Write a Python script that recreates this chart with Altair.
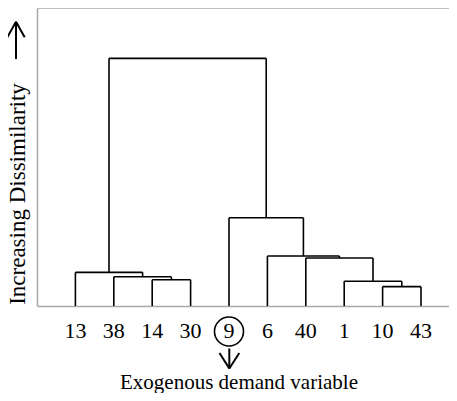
import altair as alt
import pandas as pd

# ---- data ----
leaves = ["13", "38", "14", "30", "9", "6", "40", "1", "10", "43"]
merge_ids = ["m1", "m2", "m3", "m4", "m5", "m6", "m7", "m8", "m9"]
merge_a = ["14", "38", "13", "10", "1", "40", "6", "9", "m3"]
merge_b = ["30", "m1", "m2", "43", "m4", "m5", "m6", "m7", "m8"]
merge_height = [0.88, 0.98, 1.13, 0.65, 0.83, 1.61, 1.68, 2.96, 8.31]
highlight_leaf = "9"

# ---- build dendrogram segments ----
pos = {name: float(i) for i, name in enumerate(leaves)}
hgt = {name: 0.0 for name in leaves}
segs = []
for mid, a, b, h in zip(merge_ids, merge_a, merge_b, merge_height):
    xa, xb = pos[a], pos[b]
    segs.append({"x": xa, "x2": xb, "y": h, "y2": h})
    segs.append({"x": xa, "x2": xa, "y": hgt[a], "y2": h})
    segs.append({"x": xb, "x2": xb, "y": hgt[b], "y2": h})
    pos[mid] = (xa + xb) / 2
    hgt[mid] = h
seg_df = pd.DataFrame(segs)
leaf_df = pd.DataFrame({"idx": list(range(len(leaves))), "label": leaves})
hl_df = leaf_df[leaf_df["label"] == highlight_leaf]

W, H = 412, 298
FONT = "Liberation Serif"
GRAY = "#a9a9a9"

xs = alt.Scale(domain=[-1, 9.729], nice=False, zero=False)
ys = alt.Scale(domain=[0, 10], nice=False)

tree = alt.Chart(seg_df).mark_rule(color="black", strokeWidth=1.6).encode(
    x=alt.X("x:Q", scale=xs,
            axis=alt.Axis(title="Exogenous demand variable", labels=False, ticks=False,
                          grid=False, domainColor=GRAY, domainWidth=1.5,
                          titleFont=FONT, titleFontSize=21, titleFontWeight="normal",
                          titleColor="black", titleX=201.5, titleY=82,
                          titleBaseline="alphabetic", titleAlign="center")),
    x2="x2:Q",
    y=alt.Y("y:Q", scale=ys,
            axis=alt.Axis(title="Increasing Dissimilarity", labels=False, ticks=False,
                          grid=False, domainColor=GRAY, domainWidth=1.5,
                          titleFont=FONT, titleFontSize=23, titleFontWeight="normal",
                          titleColor="black", titleX=-13, titleY=185.5, titleAngle=270,
                          titleBaseline="alphabetic", titleAlign="center")),
    y2="y2:Q",
)

labels = alt.Chart(leaf_df).mark_text(
    font=FONT, fontSize=22, color="black", baseline="alphabetic", align="center"
).encode(x=alt.X("idx:Q", scale=xs), y=alt.value(330), text="label:N")

circle = alt.Chart(hl_df).mark_point(
    shape="circle", filled=False, color="black", strokeWidth=1.6, size=841, opacity=1
).encode(x=alt.X("idx:Q", scale=xs), y=alt.value(323.5))

one = pd.DataFrame({"k": [0]})
# frame top line
top = alt.Chart(one).mark_rule(color=GRAY, strokeWidth=1.5).encode(
    x=alt.value(0), x2=alt.value(W + 10), y=alt.value(0), y2=alt.value(0))

# annotation arrows (pixel space)
arrow_up = pd.DataFrame({
    "x": [-21, -21, -21], "y": [13.7, 13.7, 13.7],
    "x2": [-21, -29.7, -12.3], "y2": [51, 29.3, 29.3],
})
arrow_dn = pd.DataFrame({
    "x": [192.3, 192.3, 192.3], "y": [360.5, 360.5, 360.5],
    "x2": [192.3, 182.5, 202.3], "y2": [340.5, 345, 345],
})
up = alt.Chart(arrow_up).mark_rule(color="black", strokeWidth=2).encode(
    x=alt.X("x:Q", scale=None), x2="x2:Q", y=alt.Y("y:Q", scale=None), y2="y2:Q")
dn = alt.Chart(arrow_dn).mark_rule(color="black", strokeWidth=2).encode(
    x=alt.X("x:Q", scale=None), x2="x2:Q", y=alt.Y("y:Q", scale=None), y2="y2:Q")

chart = alt.layer(top, tree, labels, circle, up, dn).properties(
    width=W, height=H,
    background="white",
    autosize=alt.AutoSizeParams(type="none"),
    padding={"left": 29, "top": 0, "right": 0, "bottom": 87},
).configure_view(stroke=None)

chart.save("out.html", embed_options={"renderer": "svg", "actions": False})
